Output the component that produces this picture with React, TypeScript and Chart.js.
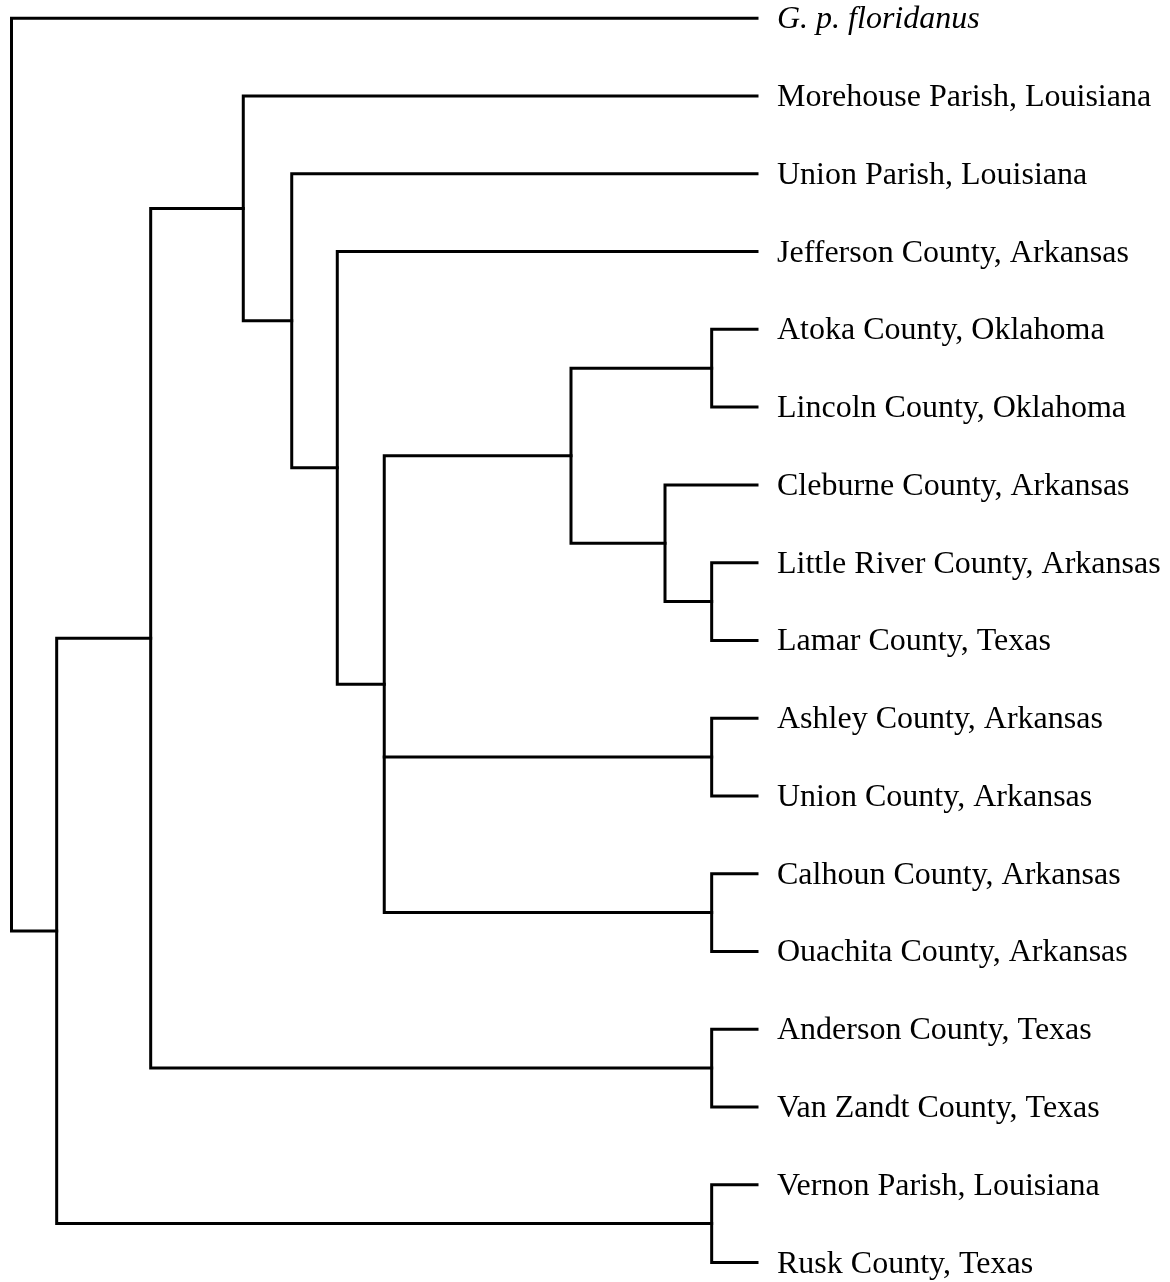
import React, { useEffect, useRef } from "react";
import { Chart, registerables } from "chart.js";

Chart.register(...registerables);

// Leaves, top to bottom
const leafLabels = [
  "G. p. floridanus",
  "Morehouse Parish, Louisiana",
  "Union Parish, Louisiana",
  "Jefferson County, Arkansas",
  "Atoka County, Oklahoma",
  "Lincoln County, Oklahoma",
  "Cleburne County, Arkansas",
  "Little River County, Arkansas",
  "Lamar County, Texas",
  "Ashley County, Arkansas",
  "Union County, Arkansas",
  "Calhoun County, Arkansas",
  "Ouachita County, Arkansas",
  "Anderson County, Texas",
  "Van Zandt County, Texas",
  "Vernon Parish, Louisiana",
  "Rusk County, Texas",
];
const italicLeaves = ["G. p. floridanus"];
const leafDepth = 100;

// Internal nodes: name, depth (0 = root, 100 = tips), children (leaf "#index" or node name)
const nodeNames = ["root", "nA", "nB", "nC", "nD", "nE", "nF", "nG", "nH", "pAtLi", "pLrLa", "pAsUc", "pCaOu", "pAnVz", "pVeRu"];
const nodeDepths = [0, 6.06, 18.67, 31.09, 37.59, 43.7, 50.0, 75.05, 87.66, 93.92, 93.92, 93.92, 93.92, 93.92, 93.92];
const nodeChildren = [
  ["#0", "nA"],
  ["nB", "pVeRu"],
  ["nC", "pAnVz"],
  ["#1", "nD"],
  ["#2", "nE"],
  ["#3", "nF"],
  ["nG", "pAsUc", "pCaOu"],
  ["pAtLi", "nH"],
  ["#6", "pLrLa"],
  ["#4", "#5"],
  ["#7", "#8"],
  ["#9", "#10"],
  ["#11", "#12"],
  ["#13", "#14"],
  ["#15", "#16"],
];

const isLeaf = (id: string) => id.charAt(0) === "#";

function depthOf(id: string): number {
  if (isLeaf(id)) return leafDepth;
  return nodeDepths[nodeNames.indexOf(id)];
}

const yCache: Record<string, number> = {};
function yOf(id: string): number {
  if (id in yCache) return yCache[id];
  let v: number;
  if (isLeaf(id)) v = parseInt(id.slice(1), 10);
  else {
    const ch = nodeChildren[nodeNames.indexOf(id)].map(yOf);
    v = (Math.min(...ch) + Math.max(...ch)) / 2;
  }
  yCache[id] = v;
  return v;
}

function buildDatasets() {
  const sets: any[] = [];
  const base = {
    borderColor: "#000",
    borderWidth: 3,
    pointRadius: 0,
    pointHoverRadius: 0,
    showLine: true,
    fill: false,
    tension: 0,
    stepped: true,
    clip: false,
    borderCapStyle: "square",
    borderJoinStyle: "miter",
  };
  nodeNames.forEach((name, i) => {
    const d = nodeDepths[i];
    const ch = [...nodeChildren[i]].sort((a, b) => yOf(a) - yOf(b));
    const first = ch[0];
    const last = ch[ch.length - 1];
    sets.push({
      ...base,
      label: name,
      data: [
        { x: depthOf(first), y: yOf(first) },
        { x: d, y: yOf(first) },
        { x: d, y: yOf(last) },
        { x: depthOf(last), y: yOf(last) },
      ],
    });
    ch.slice(1, -1).forEach((c) => {
      sets.push({
        ...base,
        label: name + "-" + c,
        data: [
          { x: d, y: yOf(c) },
          { x: depthOf(c), y: yOf(c) },
        ],
      });
    });
  });
  return sets;
}

const leafLabelPlugin = {
  id: "leafLabels",
  afterDraw(chart: any) {
    const { ctx, scales } = chart;
    const xs = scales.x;
    const ys = scales.y;
    ctx.save();
    ctx.fillStyle = "#000";
    ctx.textAlign = "left";
    ctx.textBaseline = "alphabetic";
    leafLabels.forEach((lab, i) => {
      const italic = italicLeaves.includes(lab);
      ctx.font = `${italic ? "italic " : ""}32px "Liberation Serif", "Times New Roman", serif`;
      ctx.fillText(lab, xs.getPixelForValue(leafDepth) + 20, ys.getPixelForValue(i) + 10);
    });
    ctx.restore();
  },
};

export default function App() {
  const ref = useRef<HTMLCanvasElement>(null);
  useEffect(() => {
    document.body.style.margin = "0";
    if (!ref.current) return;
    const chart = new Chart(ref.current, {
      type: "scatter",
      data: { datasets: buildDatasets() },
      options: {
        animation: false,
        responsive: false,
        events: [],
        layout: { padding: { left: 11.5, right: 413, top: 18.3, bottom: 19.5 } },
        plugins: { legend: { display: false }, tooltip: { enabled: false } },
        scales: {
          x: { type: "linear", min: 0, max: leafDepth, display: false },
          y: { type: "linear", min: 0, max: leafLabels.length - 1, reverse: true, display: false },
        },
      },
      plugins: [leafLabelPlugin],
    });
    return () => chart.destroy();
  }, []);
  return (
    <div style={{ width: 1170, height: 1282, background: "#fff" }}>
      <canvas ref={ref} width={1170} height={1282} style={{ display: "block" }} />
    </div>
  );
}
